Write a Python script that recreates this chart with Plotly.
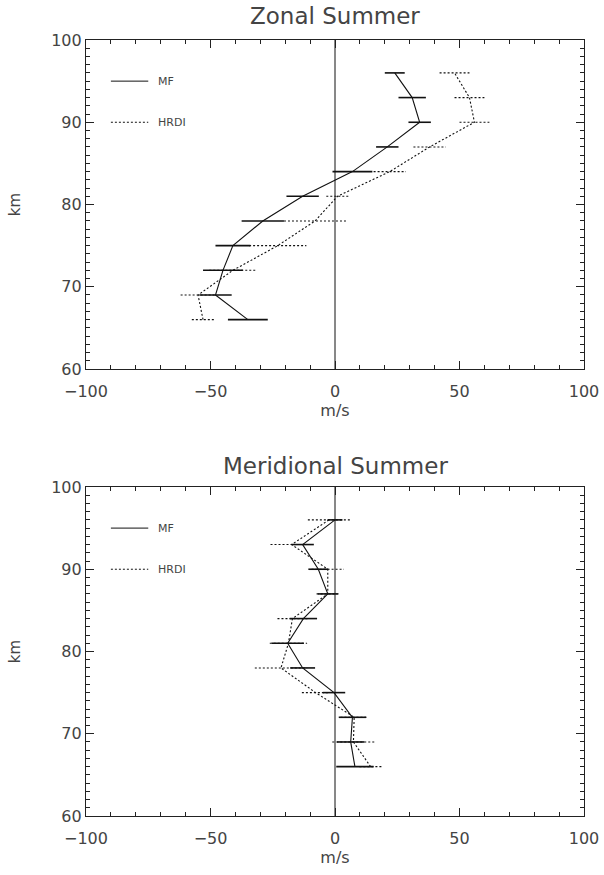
import plotly.graph_objects as go
from plotly.subplots import make_subplots

# ---------------- data ----------------
heights = [66, 69, 72, 75, 78, 81, 84, 87, 90, 93, 96]

zonal_mf = [-35, -48, -45, -41, -29, -13, 7, 21, 34, 31, 24]
zonal_mf_err = [8, 6.5, 8, 7, 8.5, 6.5, 8, 4.5, 4.5, 5.5, 4]
zonal_hrdi = [-53, -55, -41, -23, -8, 1, 22, 38, 56, 54, 48]
zonal_hrdi_err = [4.5, 7, 9.5, 11.5, 12.5, 4.5, 6.5, 6.5, 6, 6, 6]

merid_mf = [8, 6.3, 7, -0.4, -13, -19, -12.7, -2.9, -6.7, -13, 0]
merid_mf_err = [7.5, 5.5, 5.5, 4.5, 5, 6.5, 5.5, 4, 4, 4.5, 3]
merid_hrdi = [14.3, 7.4, 7.7, -7.8, -21.7, -18.7, -17.1, -2.9, -2.9, -17.4, -2.4]
merid_hrdi_err = [4.5, 8.5, 5.5, 5.5, 10.5, 7.5, 6, 4.5, 6.5, 8.5, 8.5]

titles = ["Zonal Summer", "Meridional Summer"]
series_names = ["MF", "HRDI"]
x_ticks = [-100, -50, 0, 50, 100]
x_tick_text = ["\u2212100", "\u221250", "0", "50", "100"]
y_ticks = [60, 70, 80, 90, 100]

# ---------------- figure ----------------
fig = make_subplots(rows=2, cols=1, vertical_spacing=0.152)

FONT = "DejaVu Sans"
TXT = "#444444"
DOT = "2px,2px"


def segments(xs, errs, ys):
    sx, sy = [], []
    for v, e, h in zip(xs, errs, ys):
        sx += [v - e, v + e, None]
        sy += [h, h, None]
    return sx, sy


panels = [
    (zonal_mf, zonal_mf_err, zonal_hrdi, zonal_hrdi_err),
    (merid_mf, merid_mf_err, merid_hrdi, merid_hrdi_err),
]

for i, (mf, mfe, hr, hre) in enumerate(panels, start=1):
    # zero line
    fig.add_trace(go.Scatter(x=[0, 0], y=[60, 100], mode="lines",
                             line=dict(color="#111111", width=1),
                             showlegend=False, hoverinfo="skip"), row=i, col=1)
    # MF
    fig.add_trace(go.Scatter(x=mf, y=heights, mode="lines",
                             line=dict(color="#111111", width=1.1),
                             name=series_names[0], showlegend=False), row=i, col=1)
    ex, ey = segments(mf, mfe, heights)
    fig.add_trace(go.Scatter(x=ex, y=ey, mode="lines",
                             line=dict(color="#111111", width=1.6),
                             showlegend=False, hoverinfo="skip"), row=i, col=1)
    # HRDI
    fig.add_trace(go.Scatter(x=hr, y=heights, mode="lines",
                             line=dict(color="#111111", width=1.1, dash=DOT),
                             name=series_names[1], showlegend=False), row=i, col=1)
    ex, ey = segments(hr, hre, heights)
    fig.add_trace(go.Scatter(x=ex, y=ey, mode="lines",
                             line=dict(color="#111111", width=1.1, dash=DOT),
                             showlegend=False, hoverinfo="skip"), row=i, col=1)
    # in-plot legend
    fig.add_trace(go.Scatter(x=[-90, -75], y=[95, 95], mode="lines",
                             line=dict(color="#111111", width=1),
                             showlegend=False, hoverinfo="skip"), row=i, col=1)
    fig.add_trace(go.Scatter(x=[-90, -75], y=[90, 90], mode="lines",
                             line=dict(color="#111111", width=1, dash=DOT),
                             showlegend=False, hoverinfo="skip"), row=i, col=1)
    xr = "x" if i == 1 else "x2"
    yr = "y" if i == 1 else "y2"
    for name, yy in zip(series_names, [95, 90]):
        fig.add_annotation(x=-72, y=yy, xref=xr, yref=yr, text=name,
                           showarrow=False, xanchor="left", yanchor="middle",
                           font=dict(family=FONT, size=11, color=TXT))

    fig.update_xaxes(range=[-100, 100], tickvals=x_ticks, ticktext=x_tick_text,
                     ticks="inside", ticklen=8, tickwidth=1, tickcolor="#222",
                     minor=dict(dtick=10, ticks="inside", ticklen=4, tickcolor="#222"),
                     showline=True, linecolor="#222", linewidth=1.2, mirror="ticks",
                     showgrid=False, zeroline=False, automargin=False,
                     ticklabelstandoff=8,
                     tickfont=dict(family=FONT, size=16, color=TXT),
                     title=dict(text="m/s", font=dict(family=FONT, size=16, color=TXT),
                                standoff=4),
                     row=i, col=1)
    fig.update_yaxes(range=[60, 100], tickvals=y_ticks,
                     ticks="inside", ticklen=8, tickwidth=1, tickcolor="#222",
                     minor=dict(dtick=1, ticks="inside", ticklen=4, tickcolor="#222"),
                     showline=True, linecolor="#222", linewidth=1.2, mirror="ticks",
                     showgrid=False, zeroline=False, automargin=False,
                     tickfont=dict(family=FONT, size=16, color=TXT),
                     title=dict(text="km", font=dict(family=FONT, size=15, color=TXT),
                                standoff=26),
                     row=i, col=1)

# subplot titles
fig.add_annotation(x=0.5, y=1.0, xref="x domain", yref="y domain", text=titles[0],
                   showarrow=False, yanchor="bottom", yshift=9,
                   font=dict(family=FONT, size=23, color=TXT))
fig.add_annotation(x=0.5, y=1.0, xref="x2 domain", yref="y2 domain", text=titles[1],
                   showarrow=False, yanchor="bottom", yshift=6,
                   font=dict(family=FONT, size=23, color=TXT))

fig.update_layout(width=604, height=875,
                  margin=dict(l=86, r=20, t=40, b=59),
                  paper_bgcolor="white", plot_bgcolor="white",
                  showlegend=False)

fig.write_html("out.html",
               config={"displayModeBar": False},
               post_script="document.body.style.margin='0';document.body.style.padding='0';")
